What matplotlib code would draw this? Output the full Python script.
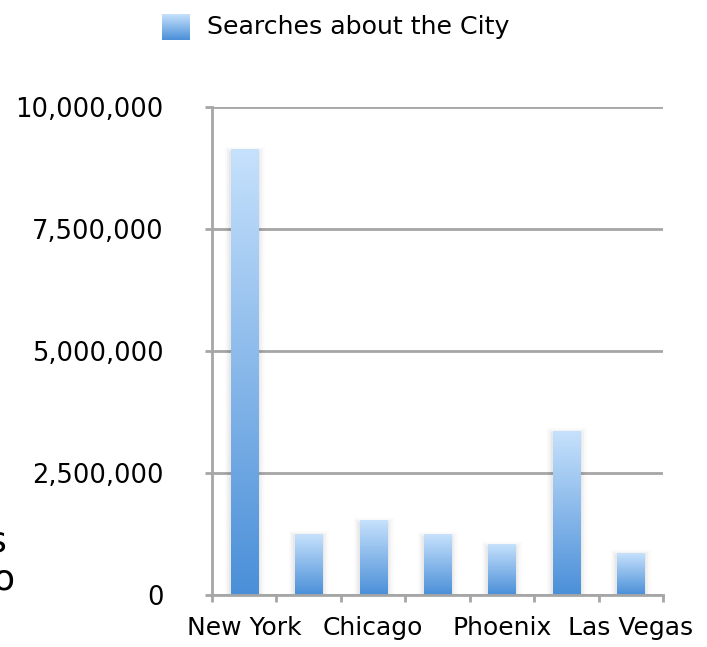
import numpy as np
import matplotlib
matplotlib.use("Agg")
import matplotlib.pyplot as plt
import matplotlib.patheffects as pe
from matplotlib.ticker import FuncFormatter
from matplotlib.colors import LinearSegmentedColormap

# ---- data ----
cities = ["New York", "Los Angeles", "Chicago", "Houston", "Phoenix", "San Francisco", "Las Vegas"]
searches = [9120000, 1250000, 1520000, 1230000, 1030000, 3360000, 860000]
shown_labels = ["New York", "", "Chicago", "", "Phoenix", "", "Las Vegas"]
series_name = "Searches about the City"
y_ticks = [0, 2500000, 5000000, 7500000, 10000000]

W, H = 707, 647
fig = plt.figure(figsize=(W / 100, H / 100), dpi=100)
ax = fig.add_axes([212 / W, (H - 595) / H, (663 - 212) / W, (595 - 107) / H])

top_col = "#c6e1fc"
bot_col = "#4a8fd8"
cmap = LinearSegmentedColormap.from_list("g", [bot_col, top_col])
grad = np.linspace(0, 1, 256).reshape(-1, 1)

x = np.arange(len(cities))
bars = ax.bar(x, searches, width=0.42, color=bot_col, zorder=3)
for b in bars:
    b.set_path_effects([
        pe.Stroke(offset=(0, -2), linewidth=9, foreground="#000000", alpha=0.02),
        pe.Stroke(offset=(0, -2), linewidth=6, foreground="#000000", alpha=0.03),
        pe.Stroke(offset=(0, -2), linewidth=3, foreground="#000000", alpha=0.04),
        pe.Normal(),
    ])
    bx, by, bw, bh = b.get_x(), b.get_y(), b.get_width(), b.get_height()
    ax.imshow(grad, cmap=cmap, origin="lower", aspect="auto",
              extent=[bx, bx + bw, by, by + bh], zorder=4, interpolation="bilinear")

ax.set_xlim(-0.5, len(cities) - 0.5)
ax.set_ylim(0, 10000000)
ax.set_yticks(y_ticks)
ax.yaxis.set_major_formatter(FuncFormatter(lambda v, p: f"{int(v):,}"))

ax.set_xticks(x)
ax.set_xticklabels(shown_labels)
ax.set_xticks(np.arange(-0.5, len(cities)), minor=True)

gc = "#a6a6a6"
ax.grid(axis="y", color=gc, linewidth=2, zorder=1)
ax.set_axisbelow(True)
for s in ["top", "right"]:
    ax.spines[s].set_visible(False)
for s in ["left", "bottom"]:
    ax.spines[s].set_color(gc)
    ax.spines[s].set_linewidth(2)
    ax.spines[s].set_zorder(5)

ax.tick_params(axis="x", which="major", length=0, pad=15, labelsize=18, labelcolor="black")
ax.tick_params(axis="x", which="minor", length=5, width=2, color=gc, direction="out")
ax.tick_params(axis="y", length=5, width=2, color=gc, pad=30, labelsize=18.5, labelcolor="black")

# legend (manual)
lax = fig.add_axes([162 / W, (H - 40) / H, 28 / W, 26 / H])
lax.imshow(grad, cmap=cmap, origin="lower", aspect="auto", extent=[0, 1, 0, 1])
lax.set_axis_off()
fig.text(207 / W, (H - 27) / H, series_name, fontsize=18.2, va="center", ha="left")

# cut-off text at left edge
fig.text(7 / W, (H - 552) / H, "s", fontsize=26, ha="right", va="baseline")
fig.text(15 / W, (H - 590) / H, "o", fontsize=26, ha="right", va="baseline")

fig.savefig("out.png", dpi=100)
